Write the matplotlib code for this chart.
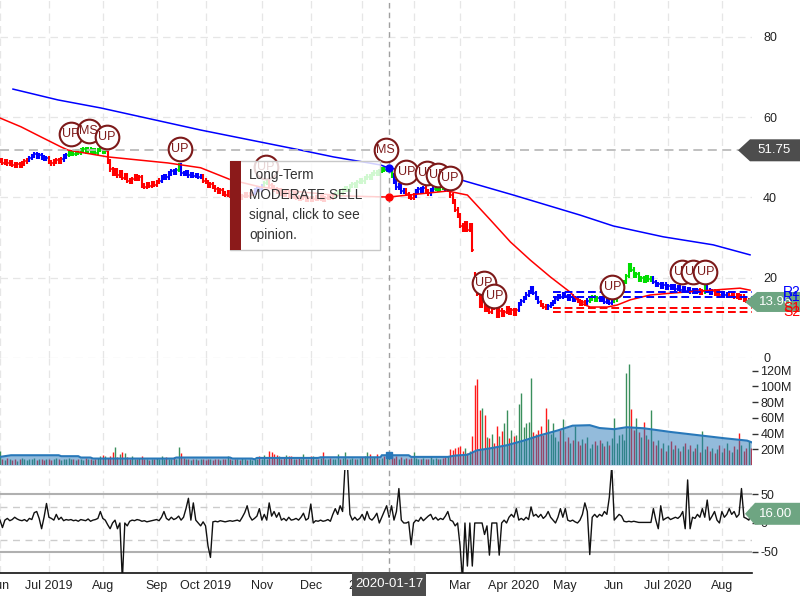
import numpy as np
import pandas as pd
import matplotlib
matplotlib.use("Agg")
import matplotlib.pyplot as plt
from matplotlib.patches import Polygon, Rectangle

plt.rcParams['font.family'] = ['Liberation Sans', 'DejaVu Sans']

# ---------------- data ----------------
holidays = ['2019-07-04', '2019-09-02', '2019-11-28', '2019-12-25', '2020-01-01',
            '2020-01-20', '2020-02-17', '2020-04-10', '2020-05-25', '2020-07-03']
dates = pd.bdate_range('2019-06-03', '2020-08-19', freq='C', holidays=holidays)

close = [
    49.2, 48.6, 49.0, 48.5, 48.8, 48.2, 47.8, 48.4, 48.0, 48.5,
    49.0, 49.4, 49.8, 50.4, 50.8, 50.2, 50.6, 50.0, 49.6, 49.8,
    48.8, 48.5, 49.0, 49.3, 48.9, 49.5, 50.2, 50.6, 51.0, 51.4,
    50.9, 51.6, 51.2, 51.8, 52.0, 51.5, 51.9, 51.3, 51.7, 51.2,
    51.8, 52.2, 51.4, 51.6, 49.0, 47.0, 46.0, 46.8, 45.5, 46.3,
    44.8, 45.5, 44.2, 44.0, 44.6, 45.2, 44.6, 45.0, 43.0, 42.6,
    43.2, 42.8, 43.5, 43.2, 43.8, 44.2, 45.0, 45.4, 45.0, 46.0,
    46.6, 46.2, 46.8, 48.0, 46.0, 45.8, 46.2, 45.5, 45.8, 45.3,
    45.6, 45.1, 45.4, 44.2, 43.8, 43.0, 43.4, 42.6, 42.0, 41.4,
    41.8, 41.0, 40.6, 41.2, 40.5, 40.8, 40.2, 40.6, 40.0, 40.4,
    40.9, 40.3, 40.8, 41.2, 41.8, 42.4, 42.0, 42.8, 43.6, 44.2,
    43.0, 42.5, 42.0, 41.5, 41.8, 41.0, 40.6, 41.2, 40.5, 40.2,
    40.8, 40.0, 39.6, 39.8, 40.2, 39.5, 39.9, 39.3, 39.7, 40.1,
    39.6, 40.0, 39.4, 39.8, 40.3, 39.9, 40.5, 40.8, 41.3, 41.0,
    41.8, 42.2, 42.0, 42.8, 43.3, 43.0, 43.8, 44.2, 44.0, 44.8,
    45.2, 45.0, 45.8, 46.2, 46.0, 46.6, 47.0, 46.8, 47.3, 47.4,
    45.5, 44.0, 42.5, 43.0, 41.5, 41.8, 40.8, 40.2, 39.8, 40.5,
    41.5, 42.0, 41.6, 42.3, 41.5, 41.0, 41.8, 42.2, 42.6, 42.0,
    42.8, 42.4, 42.0, 42.5, 40.5, 39.0, 37.0, 35.5, 33.0, 32.0,
    33.5, 32.0, 33.0, 27.0, 19.0, 16.0, 13.0, 15.5, 12.0, 14.0,
    11.5, 13.5, 12.5, 10.5, 11.8, 10.8, 11.5, 12.3, 11.2, 12.0,
    11.0, 12.0, 13.5, 14.2, 15.0, 15.8, 16.5, 17.5, 16.2, 15.0,
    14.0, 13.2, 12.8, 12.5, 13.0, 13.4, 14.0, 14.8, 15.5, 15.2,
    16.0, 15.5, 14.8, 15.3, 14.5, 15.0, 14.2, 13.5, 14.0, 13.6,
    14.3, 14.8, 15.2, 14.6, 15.0, 14.4, 14.8, 14.0, 14.5, 13.8,
    14.2, 14.6, 15.5, 16.2, 17.5, 19.0, 20.5, 23.0, 22.0, 20.5,
    21.0, 19.5, 20.0, 19.2, 20.2, 19.6, 20.0, 19.0, 18.2, 18.5,
    17.8, 18.3, 17.6, 18.0, 17.4, 17.8, 17.2, 17.6, 17.0, 17.4,
    16.8, 17.2, 16.6, 17.0, 16.5, 16.9, 16.2, 16.6, 17.6, 16.8,
    16.2, 16.6, 16.0, 16.4, 15.8, 16.2, 15.6, 16.0, 15.4, 15.8,
    15.2, 15.6, 15.0, 15.3, 14.6, 14.2, 14.4, 13.96,
]
open_override = {194: 21.0}

volume_m = [
    18, 8, 6, 9, 7, 6, 8, 5, 7, 9,
    7, 6, 8, 7, 9, 6, 7, 8, 6, 7,
    8, 6, 7, 9, 7, 6, 8, 7, 9, 8,
    7, 6, 8, 7, 6, 9, 7, 8, 6, 7,
    9, 12, 13, 12, 9, 12, 16, 23, 10, 14,
    16, 15, 10, 8, 11, 8, 7, 9, 12, 8,
    7, 6, 8, 7, 9, 8, 11, 7, 10, 8,
    7, 10, 8, 23, 15, 9, 8, 7, 6, 8,
    7, 6, 8, 7, 6, 8, 7, 6, 7, 8,
    6, 7, 8, 12, 7, 6, 8, 7, 6, 9,
    7, 6, 8, 6, 7, 8, 12, 7, 13, 8,
    18, 16, 14, 13, 12, 8, 9, 13, 12, 11,
    8, 7, 9, 8, 14, 7, 8, 11, 11, 7,
    8, 9, 17, 8, 7, 9, 8, 7, 14, 8,
    9, 17, 8, 7, 9, 8, 7, 9, 10, 12,
    16, 14, 9, 10, 14, 8, 9, 12, 9, 10,
    12, 9, 12, 8, 10, 7, 9, 8, 9, 16,
    9, 8, 7, 9, 8, 7, 12, 8, 9, 7,
    8, 9, 10, 12, 20, 19, 22, 23, 24, 18,
    21, 15, 18, 37, 102, 109, 70, 73, 64, 36,
    34, 40, 28, 50, 37, 43, 54, 70, 34, 44,
    37, 38, 78, 91, 48, 53, 55, 111, 42, 40,
    44, 50, 38, 73, 59, 40, 53, 36, 30, 45,
    58, 30, 35, 28, 32, 49, 30, 25, 33, 28,
    35, 22, 27, 30, 25, 32, 28, 24, 30, 26,
    34, 60, 28, 38, 40, 32, 117, 129, 71, 45,
    60, 42, 35, 55, 38, 33, 70, 30, 25, 32,
    22, 28, 18, 25, 30, 20, 26, 22, 18, 24,
    28, 20, 25, 18, 22, 27, 16, 43, 20, 24,
    18, 22, 15, 20, 25, 17, 22, 28, 19, 16,
    24, 20, 41, 26, 18, 22, 30, 21,
]

osc = [
    5, -8, 5, 8, 4, 6, 10, 7, 5, 4,
    6, 3, 8, 6, 18, 20, 8, -10, 10, 34,
    10, 8, 5, 15, 6, 10, 4, 6, 5, 6,
    4, 5, 3, 6, 5, 4, 7, 3, 5, 6,
    8, 20, 8, 5, -3, -10, 0, 5, -10, 0,
    -100, 0, -5, 3, 5, 4, 6, 5, 3, 4,
    2, 3, 4, 5, 6, 4, 10, 20, 8, 5,
    10, 6, 8, 12, 5, 10, 25, 43, 5, 35,
    5, 0, -5, 2, -5, -40, -60, 2, 3, 2,
    4, 3, 2, 3, 4, 3, 4, 5, 3, 10,
    18, 30, 12, 5, 8, 12, 25, 5, 15, 5,
    35, 12, 20, 10, 18, 5, 8, 4, 10, 5,
    6, 8, 5, 10, 17, 5, 8, 33, 0, 4,
    3, 5, 3, 4, 6, 3, 15, 25, 15, 30,
    20, 100, 100, 15, 5, 10, 5, 8, 15, 5,
    20, 8, 5, 10, 17, 0, 10, 20, 30, 10,
    30, 5, 20, 60, 5, 0, 0, 2, -38, 0,
    5, 3, 10, 4, 8, 12, 15, 6, 10, 5,
    8, 6, 12, 20, 5, 3, -5, 0, -40, -100,
    0, -75, 0, -75, 0, 0, 0, 0, -20, -5,
    -56, 0, 0, 0, -56, 0, 5, 0, 10, 15,
    10, 25, 5, 8, 5, 10, 6, 28, 12, 15,
    10, 15, 8, 12, 20, 10, 5, 0, 10, 25,
    10, 25, 5, 3, 5, 2, 0, 5, 15, 35,
    20, -55, 10, 15, 10, 15, 12, 20, 15, 45,
    100, 5, 10, 15, 12, 3, 2, 3, 2, 3,
    2, 1, 1, 1, 1, 1, 1, 25, 5, -10,
    30, 5, 8, 10, 6, 8, 10, 8, 12, 20,
    -10, 75, -10, 10, 8, 15, 10, 25, 10, 40,
    5, 12, 20, 5, 0, 20, 10, 15, 25, 15,
    20, 10, 15, 60, 10, 8, 5, 16,
]

trend_start = [0, 12, 20, 26, 28, 44, 66, 73, 74, 83, 104, 108, 110, 137, 161, 166,
               170, 174, 176, 178, 182, 184, 212, 221, 224, 236, 240, 241, 245, 251,
               267, 286, 288, 289, 292, 295, 298]
trend_code = ['r', 'b', 'r', 'b', 'g', 'r', 'b', 'g', 'b', 'r', 'b', 'g', 'r', 'g', 'b', 'r',
              'b', 'r', 'b', 'g', 'b', 'r', 'b', 'r', 'b', 'r', 'b', 'g', 'b', 'g',
              'b', 'r', 'g', 'b', 'r', 'b', 'r']

sma_long_idx = [5.3, 23.7, 41.2, 82, 122.9, 136.3, 155.5, 158.8, 180, 188.2, 209.8,
                237.1, 250.6, 271, 291.4, 306.5]
sma_long = [67.0, 64.3, 62.3, 56.8, 51.8, 50.1, 48.1, 47.35, 45.4, 44.4, 40.6,
            35.6, 32.9, 30.2, 28.2, 25.7]
sma_short_idx = [0.0, 8.6, 16.7, 24.9, 27.8, 44.1, 68.6, 82, 94.3, 106.5, 122.9, 139.2,
                 158.8, 182.9, 191, 200.4, 208.6, 216.7, 224.9, 233, 237.1, 241.2,
                 248.2, 252.2, 257.6, 265.7, 275.1, 286.1, 302.4, 306.5]
sma_short = [59.8, 57.6, 55.1, 52.6, 51.8, 50.1, 48.6, 47.4, 44.4, 42.6, 41.4, 40.4,
             40.1, 41.6, 40.6, 34.4, 28.9, 24.4, 20.2, 16.4, 13.7, 12.7,
             12.7, 13.2, 14.5, 15.7, 16.2, 16.7, 17.4, 16.9]

vol_ma_idx = [0, 4.5, 24, 25, 32, 33, 37, 38, 71, 72, 94, 95, 103, 104, 105, 130, 131,
              155.5, 156, 167, 168, 183, 186, 191, 195, 200, 207, 214, 221, 228, 234,
              241, 245, 251, 256, 263, 274, 285, 296, 305.3, 307]
vol_ma = [10.3, 12.4, 12.4, 11.2, 11.2, 9.5, 9.5, 8.2, 8.2, 9.5, 9.5, 8.2, 8.2, 7.2, 9,
          9, 9.8, 9.8, 12.4, 12.4, 10.3, 10.3, 12, 13, 18.7, 21, 25, 31, 38, 44, 50,
          50.6, 47, 45.5, 48, 46.7, 42, 38, 34, 31, 29]

signal_idx = [29, 36.3, 43.7, 73.5, 108.6, 157.6, 166.1, 174.3, 178.8, 183.7,
              197.6, 202, 250.2, 278.8, 283.3, 288.2]
signal_price = [55.8, 56.6, 55.1, 52.1, 47.6, 51.8, 46.4, 46.1, 45.6, 44.9,
                18.7, 15.5, 17.7, 21.4, 21.4, 21.4]
signal_text = ['UP', 'MS', 'UP', 'UP', 'UP', 'MS', 'UP', 'UP', 'UP', 'UP',
               'UP', 'UP', 'UP', 'UP', 'UP', 'UP']

level_names = ['R2', 'R1', 'S1', 'S2']
level_values = [16.45, 15.2, 12.46, 11.46]
level_colors = ['#0000ff', '#0000ff', '#ff0000', '#ff0000']
level_start = 226

tick_dates = ['2019-06-03', '2019-07-01', '2019-08-01', '2019-09-03', '2019-10-01',
              '2019-11-01', '2019-12-02', '2020-01-02', '2020-02-03', '2020-03-02',
              '2020-04-01', '2020-05-01', '2020-06-01', '2020-07-01', '2020-08-03']
tick_labels = ['Jun', 'Jul 2019', 'Aug', 'Sep', 'Oct 2019', 'Nov', 'Dec', '2020', 'Feb',
               'Mar', 'Apr 2020', 'May', 'Jun', 'Jul 2020', 'Aug']

price_ticks = [0, 20, 40, 60, 80]
vol_ticks = [20, 40, 60, 80, 100, 120]
osc_ticks = [-50, 0, 50]

crosshair_date = '2020-01-17'
hover_price = 51.75
last_price = 13.96
last_osc = 16.00
tooltip_lines = ['Long-Term', 'MODERATE SELL', 'signal, click to see', 'opinion.']

# ---------------- figure ----------------
W, H = 800.0, 600.0
fig = plt.figure(figsize=(8, 6), dpi=100)
AX_R = 752 / W
ax_p = fig.add_axes([0, 1 - 358 / H, AX_R, 358 / H])
ax_v = fig.add_axes([0, 1 - 465 / H, AX_R, 107 / H])
ax_o = fig.add_axes([0, 1 - 573 / H, AX_R, 103 / H])

N = len(close)
idx = np.arange(N)
c = np.array(close, float)
tick_idx = [dates.get_loc(pd.Timestamp(d)) for d in tick_dates]
ch = dates.get_loc(pd.Timestamp(crosshair_date))

grid_kw = dict(color='#e6e6e6', lw=0.9, ls=(0, (6, 4)), zorder=0)
for ax in (ax_p, ax_v, ax_o):
    ax.set_xlim(0.4, 307.3)
    for s in ax.spines.values():
        s.set_visible(False)
    for t in tick_idx:
        ax.axvline(t, **grid_kw)
    ax.set_xticks(tick_idx)
    ax.tick_params(axis='x', length=0, labelbottom=False)
    ax.yaxis.tick_right()
    ax.axvline(ch, color='#a0a0a0', lw=1.0, ls=(0, (4, 3)), zorder=6)

# ---- price panel ----
ax_p.set_ylim(0, 89.2)
for y in price_ticks:
    ax_p.axhline(y, **grid_kw)
ax_p.set_yticks(price_ticks)
ax_p.tick_params(axis='y', length=0, pad=8, labelsize=9, labelcolor='#222222')

code_of = [None] * N
for k, s in enumerate(trend_start):
    e = trend_start[k + 1] if k + 1 < len(trend_start) else N
    for j in range(s, e):
        code_of[j] = trend_code[k]
trend_color = {'r': '#ff0000', 'b': '#0000ff', 'g': '#00dd00'}
opens = np.concatenate([[c[0]], c[:-1]])
for k, v in open_override.items():
    opens[k] = v
cols = [trend_color[x] for x in code_of]
lo = np.minimum(opens, c) - 0.55
hi = np.maximum(opens, c) + 0.55
ax_p.vlines(idx, lo, hi, colors=cols, lw=1.5, zorder=2)
ax_p.hlines(opens, idx - 0.5, idx, colors=cols, lw=1.1, zorder=2)
ax_p.hlines(c, idx, idx + 0.5, colors=cols, lw=1.1, zorder=2)

ax_p.plot(sma_long_idx, sma_long, color='#0000ff', lw=1.1, zorder=3)
ax_p.plot(sma_short_idx, sma_short, color='#ff0000', lw=1.1, zorder=3)
ax_p.plot([ch], [np.interp(ch, sma_long_idx, sma_long)], 'o', color='#0000ff', ms=5, zorder=7)
ax_p.plot([ch], [np.interp(ch, sma_short_idx, sma_short)], 'o', color='#ff0000', ms=5, zorder=7)

ax_p.axhline(hover_price, color='#bbbbbb', lw=1.3, ls=(0, (5, 3)), zorder=4)

for name, val, col in zip(level_names, level_values, level_colors):
    ax_p.hlines(val, level_start, 307.3, colors=col, lw=1.4, linestyles=(0, (4, 2)), zorder=4)

for k, (si, sp, st) in enumerate(zip(signal_idx, signal_price, signal_text)):
    ax_p.scatter([si], [sp], s=290, facecolor='white', edgecolor='#7d1a1a', lw=1.5,
                 zorder=8 + 2 * k)
    ax_p.text(si, sp, st, color='#7d1a1a', fontsize=9, ha='center', va='center',
              zorder=9 + 2 * k)

# ---- volume panel ----
ax_v.set_ylim(0, 136)
vol_cols = np.where(c >= opens, '#3a8f5c', '#ff1a1a')
ax_v.vlines(idx, 0, volume_m, colors=vol_cols, lw=1.0, zorder=2)
ax_v.fill_between(vol_ma_idx, 0, vol_ma, color='#2878b9', alpha=0.5, lw=0, zorder=3)
ax_v.plot(vol_ma_idx, vol_ma, color='#2878b9', lw=1.5, zorder=4)
ax_v.plot([ch], [np.interp(ch, vol_ma_idx, vol_ma)], 's', color='#2878b9', ms=5, zorder=7)
ax_v.set_yticks(vol_ticks)
ax_v.set_yticklabels([f'{v}M' for v in vol_ticks])
ax_v.tick_params(axis='y', length=4, width=1, pad=2, labelsize=9, color='#333333',
                 labelcolor='#222222')

# ---- oscillator panel ----
ax_o.set_ylim(-87.1, 92.3)
ax_o.axhline(50, color='#b0b0b0', lw=1.5, zorder=1)
ax_o.axhline(-50, color='#b0b0b0', lw=1.5, zorder=1)
ax_o.axhline(28.5, color='#cccccc', lw=1.0, ls=(0, (5, 4)), zorder=1)
ax_o.axhline(-30, color='#cccccc', lw=1.0, ls=(0, (5, 4)), zorder=1)
ax_o.plot(idx, osc, color='#111111', lw=1.0, zorder=3)
ax_o.spines['bottom'].set_visible(True)
ax_o.spines['bottom'].set_color('#111111')
ax_o.spines['bottom'].set_linewidth(1.2)
ax_o.set_yticks(osc_ticks)
ax_o.set_yticklabels([str(v) for v in osc_ticks])
ax_o.tick_params(axis='y', length=4, width=1, pad=2, labelsize=9, color='#333333',
                 labelcolor='#222222')
ax_o.set_xticks(tick_idx)
ax_o.set_xticklabels(tick_labels)
ax_o.tick_params(axis='x', length=0, pad=5, labelsize=9, labelbottom=True,
                 labelcolor='#222222')

# ---------------- overlays (pixel layout) ----------------
fig.canvas.draw()


def fpt(x, y_disp):
    return (x / W, y_disp / H)


def tag(ax, value, x_tip, x_body, h, color, text, tx):
    yd = ax.transData.transform((0, value))[1]
    pts = [fpt(x_tip, yd), fpt(x_body, yd - h / 2), fpt(W, yd - h / 2),
           fpt(W, yd + h / 2), fpt(x_body, yd + h / 2)]
    fig.add_artist(Polygon(pts, closed=True, transform=fig.transFigure,
                           facecolor=color, edgecolor='none', zorder=20))
    fig.text(tx / W, yd / H, text, color='white', fontsize=9.5, ha='center',
             va='center', zorder=21)


tag(ax_p, hover_price, 738, 750, 22, '#4d4d4d', f'{hover_price:.2f}', 774)
tag(ax_p, last_price, 745, 757, 20, '#6ea582', f'{last_price:.2f}', 776)
tag(ax_o, last_osc, 745, 755, 22, '#6ea582', f'{last_osc:.2f}', 776)

for name, val, col in zip(level_names, level_values, level_colors):
    yd = ax_p.transData.transform((0, val))[1]
    fig.text(783 / W, yd / H, name, color=col, fontsize=10, ha='left', va='center',
             zorder=22)

# tooltip
fig.add_artist(Rectangle((230 / W, 1 - 250 / H), 150 / W, 89 / H, transform=fig.transFigure,
                         facecolor=(1, 1, 1, 0.82), edgecolor='#c8c8c8', lw=1, zorder=30))
fig.add_artist(Rectangle((230 / W, 1 - 250 / H), 11 / W, 89 / H, transform=fig.transFigure,
                         facecolor='#8b1a1a', edgecolor='none', zorder=31))
for k, line in enumerate(tooltip_lines):
    fig.text(249 / W, 1 - (175 + 20 * k) / H, line, color='#333333', fontsize=9.8,
             ha='left', va='center', zorder=32)

# crosshair date box
xd = ax_o.transData.transform((ch, 0))[0]
fig.add_artist(Rectangle(((xd - 37) / W, 1 - 596 / H), 74 / W, 24 / H, transform=fig.transFigure,
                         facecolor='#4d4d4d', edgecolor='none', zorder=30))
fig.text(xd / W, 1 - 584 / H, crosshair_date, color='white', fontsize=9.5, ha='center',
         va='center', zorder=31)

fig.savefig('out.png', dpi=100, facecolor='white')
